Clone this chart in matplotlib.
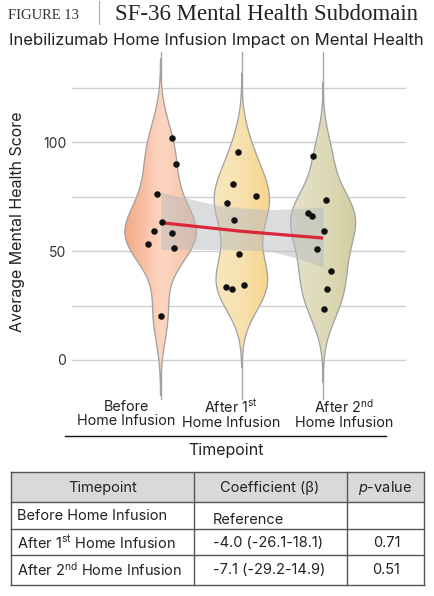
import numpy as np
import pandas as pd
import matplotlib
matplotlib.use("Agg")
import matplotlib.pyplot as plt
import seaborn as sns
from matplotlib.colors import to_rgb
from matplotlib.patches import Rectangle
from matplotlib.lines import Line2D

# datos
timepoints = ["Before", "After 1st", "After 2nd"]
before = [101.8, 89.9, 76.3, 63.4, 59.2, 58.5, 53.1, 51.4, 20.4]
after1 = [95.7, 80.8, 75.4, 72.2, 64.1, 48.5, 33.5, 32.6, 34.4]
after2 = [93.7, 73.4, 67.3, 66.1, 59.4, 50.8, 41.0, 32.6, 23.4]
# desplazamiento horizontal (jitter) de cada punto
jit_before = [0.139, 0.184, -0.049, 0.016, -0.086, 0.135, -0.160, 0.164, 0.007]
jit_after1 = [-0.049, -0.106, 0.172, -0.180, -0.093, -0.041, -0.192, -0.118, 0.025]
jit_after2 = [-0.123, 0.033, -0.185, -0.135, 0.012, -0.077, 0.095, 0.046, 0.005]

fit_x = [0, 1, 2]
fit_y = [63.1, 59.1, 56.0]
band_x = [0, 0.36, 0.73, 1.04, 1.34, 1.71, 2.0]
band_hi = [77.1, 74.0, 70.9, 69.8, 69.0, 69.6, 70.2]
band_lo = [50.7, 50.9, 50.7, 50.5, 50.0, 46.5, 42.6]

grad_cols = [["#f3a985", "#fdd6c1", "#f8c0a1"],
             ["#f9e8bf", "#f6e1ae", "#f8d48c"],
             ["#e4e2cc", "#dddab8", "#d3ce9f"]]

tab_header = ["Timepoint", "Coefficient (\u03b2)", "$\\mathit{p}$-value"]
tab_rows = [["Before Home Infusion", "Reference", ""],
            ["After 1$^{\\mathrm{st}}$ Home Infusion", "-4.0 (-26.1-18.1)", "0.71"],
            ["After 2$^{\\mathrm{nd}}$ Home Infusion", "-7.1 (-29.2-14.9)", "0.51"]]

plt.rcParams['font.family'] = ['Inter', 'DejaVu Sans']
plt.rcParams['mathtext.fontset'] = 'custom'
plt.rcParams['mathtext.rm'] = 'Inter'
plt.rcParams['mathtext.it'] = 'Inter:italic'

W, H = 435, 596
fig = plt.figure(figsize=(W/100, H/100), dpi=100)

def fx(x):
    return x / W
def fy(y):
    return 1 - y / H

ax_l, ax_r, ax_t, ax_b = 72, 406, 52, 400
ax = fig.add_axes([fx(ax_l), fy(ax_b), (ax_r-ax_l)/W, (ax_b-ax_t)/H])

df = pd.DataFrame({
    "tp": [timepoints[0]]*len(before) + [timepoints[1]]*len(after1) + [timepoints[2]]*len(after2),
    "score": before + after1 + after2,
})
sns.violinplot(data=df, x="tp", y="score", order=timepoints, inner=None, cut=3,
               bw_adjust=0.8, width=0.88,
               linewidth=0.9, linecolor="#a0a0a0", color="white", ax=ax)

polys = [c for c in ax.collections][:3]
for i, pc in enumerate(polys):
    pc.set_facecolor("none")
    pc.set_zorder(2)
    path = pc.get_paths()[0]
    vx = path.vertices
    x0, x1 = vx[:, 0].min(), vx[:, 0].max()
    y0, y1 = vx[:, 1].min(), vx[:, 1].max()
    c = np.array([to_rgb(k) for k in grad_cols[i]])
    t = np.linspace(0, 1, 200)
    img = np.zeros((1, 200, 3))
    for k in range(3):
        img[0, :, k] = np.interp(t, [0, 0.5, 1], c[:, k])
    im = ax.imshow(img, extent=(x0, x1, y0, y1), aspect="auto", zorder=1.5,
                   interpolation="bilinear")
    im.set_clip_path(path, ax.transData)

ax.fill_between(band_x, band_lo, band_hi, color="#b7babe", alpha=0.5, lw=0, zorder=2.5)
ax.plot(fit_x, fit_y, color="#d8283a", lw=2.3, zorder=3, solid_capstyle="butt")

for i, (vals, jit) in enumerate([(before, jit_before), (after1, jit_after1), (after2, jit_after2)]):
    ax.scatter(i + np.array(jit), vals, s=22, color="#111111", zorder=4, linewidths=0)

ax.set_xlim(-1.09, 3.02)
ax.set_ylim(-18.4, 141.5)
ax.set_yticks([0, 25, 50, 75, 100, 125])
ax.set_yticklabels(["0", "", "50", "", "100", ""], fontsize=10, color="#333333")
ax.set_xticks([0, 1, 2])
ax.set_xticklabels([])
ax.tick_params(length=0, pad=4)
ax.set_xlabel("")
ax.set_ylabel("")
for s in ax.spines.values():
    s.set_visible(False)
ax.set_axisbelow(True)
ax.yaxis.grid(True, color="#cfcfcf", lw=1)
ax.xaxis.grid(True, color="#a8a8a8", lw=1)

# titulos
fig.text(fx(8), fy(19), "FIGURE 13", family="Liberation Serif", fontsize=10.5,
         color="#333333", va="baseline")
fig.add_artist(Line2D([fx(99), fx(99)], [fy(1), fy(24)], color="#aaaaaa", lw=0.8))
fig.text(fx(115), fy(20.5), "SF-36 Mental Health Subdomain", family="Liberation Serif",
         fontsize=16.5, color="#222222", va="baseline")
fig.text(fx(216), fy(45.5), "Inebilizumab Home Infusion Impact on Mental Health",
         fontsize=12, color="#222222", ha="center", va="baseline")

fig.text(fx(18), fy(221.5), "Average Mental Health Score", rotation=90,
         fontsize=11.5, color="#222222", ha="center", va="center")

xl = [(126, "Before\nHome Infusion"),
      (231, "After 1$^{\\mathrm{st}}$\nHome Infusion"),
      (344, "After 2$^{\\mathrm{nd}}$\nHome Infusion")]
for xp, lab in xl:
    fig.text(fx(xp), fy(414), lab, fontsize=10.3, color="#222222", ha="center",
             va="center", linespacing=1.05)
fig.add_artist(Line2D([fx(65), fx(386)], [fy(436), fy(436)], color="#111111", lw=1))
fig.text(fx(226), fy(451), "Timepoint", fontsize=11.5, color="#222222",
         ha="center", va="center")

# tabla
tl, tr = 11, 424
ty = [472.3, 502.3, 529.3, 555.3, 585]
tc = [11, 194.3, 346.7, 424]
fig.add_artist(Rectangle((fx(tl), fy(ty[1])), (tr-tl)/W, (ty[1]-ty[0])/H,
                         facecolor="#d9d9d9", edgecolor="none"))
lc = "#555555"
for yv in ty:
    fig.add_artist(Line2D([fx(tl), fx(tr)], [fy(yv), fy(yv)], color=lc, lw=1))
for xv in tc:
    fig.add_artist(Line2D([fx(xv), fx(xv)], [fy(ty[0]), fy(ty[-1])], color=lc, lw=1))

hx = [102.5, 270, 385]
for xp, h in zip(hx, tab_header):
    fig.text(fx(xp), fy(488), h, fontsize=10.5, color="#222222", ha="center", va="center")
row_y = [516.5, 543, 570]
for r, yv in zip(tab_rows, row_y):
    fig.text(fx(17), fy(yv), r[0], fontsize=10.5, color="#222222", ha="left", va="center")
    dy = 3 if r[1] == "Reference" else 0
    fig.text(fx(213), fy(yv + dy), r[1], fontsize=10.5, color="#222222", ha="left", va="center")
    if r[2]:
        fig.text(fx(386.5), fy(yv), r[2], fontsize=10.5, color="#222222", ha="center", va="center")

fig.savefig("out.png", dpi=100)
